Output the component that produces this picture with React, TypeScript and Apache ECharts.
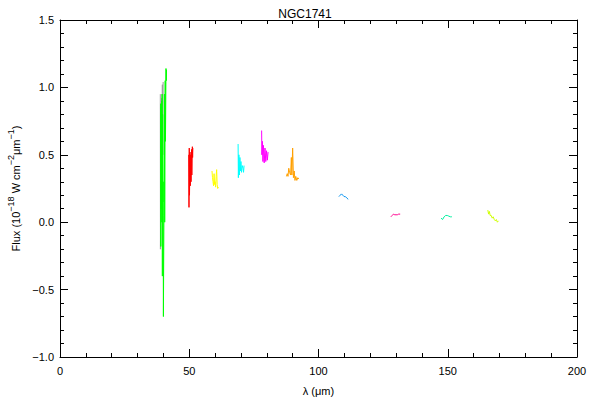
import React, { useEffect, useRef } from "react";
import * as echarts from "echarts";

const title = "NGC1741";
const xTicks = [0, 50, 100, 150, 200];
const yTicks = [-1.0, -0.5, 0.0, 0.5, 1.0, 1.5];

const greenSeg: [number, number][] = [
  [38.9, 0.88], [39.0, -0.18], [39.1, 0.85], [39.2, 0.1], [39.3, 0.9], [39.4, 0.0],
  [39.5, 0.95], [39.6, -0.4], [39.7, 0.8], [39.8, 0.15], [39.9, 0.3], [40.0, -0.7],
  [40.2, 0.05], [40.4, 0.95], [40.5, 0.0], [40.7, 1.05], [40.8, 0.6], [41.0, 1.14],
  [41.1, 1.05], [41.2, 1.13],
];
const graySeg: [number, number][] = [
  [38.8, 0.95], [38.85, -0.2], [39.3, 0.92], [39.45, 0.6], [39.6, 1.02], [39.75, 0.5], [39.9, 1.04],
];
const redSeg: [number, number][] = [
  [49.8, 0.5], [49.9, 0.11], [50.0, 0.55], [50.1, 0.2], [50.3, 0.52], [50.4, 0.27],
  [50.6, 0.5], [50.7, 0.3], [50.9, 0.54], [51.0, 0.35], [51.2, 0.56], [51.3, 0.48], [51.4, 0.55],
];
const yellowSeg: [number, number][] = [
  [58.8, 0.38], [59.0, 0.33], [59.2, 0.3], [59.4, 0.27], [59.6, 0.36], [59.8, 0.28],
  [60.0, 0.3], [60.2, 0.26], [60.4, 0.34], [60.6, 0.39], [60.8, 0.28], [61.0, 0.25], [61.3, 0.26],
];
const cyanSeg: [number, number][] = [
  [68.9, 0.58], [69.0, 0.33], [69.2, 0.5], [69.4, 0.35], [69.6, 0.48], [69.8, 0.38],
  [70.0, 0.45], [70.2, 0.37], [70.5, 0.42], [70.8, 0.4], [71.0, 0.37], [71.2, 0.42],
];
const magentaSeg: [number, number][] = [
  [78.0, 0.68], [78.1, 0.5], [78.3, 0.6], [78.5, 0.45], [78.7, 0.57], [79.0, 0.44],
  [79.3, 0.55], [79.6, 0.45], [79.9, 0.53], [80.2, 0.46], [80.5, 0.52],
];
const orangeSeg: [number, number][] = [
  [87.6, 0.34], [87.9, 0.36], [88.2, 0.34], [88.5, 0.4], [88.8, 0.37], [89.2, 0.35],
  [89.5, 0.48], [89.7, 0.35], [90.0, 0.55], [90.3, 0.33], [90.6, 0.38], [90.9, 0.31],
  [91.2, 0.34], [91.6, 0.31], [92.0, 0.33], [92.4, 0.32],
];
const blueSeg: [number, number][] = [
  [107.9, 0.19], [108.4, 0.2], [108.9, 0.21], [109.4, 0.2], [109.9, 0.19],
  [110.4, 0.19], [110.9, 0.18], [111.5, 0.17],
];
const pinkSeg: [number, number][] = [
  [128.0, 0.04], [128.5, 0.05], [129.0, 0.06], [129.5, 0.055], [130.0, 0.055],
  [130.5, 0.055], [131.0, 0.06], [131.6, 0.06],
];
const seaSeg: [number, number][] = [
  [147.4, 0.03], [148.0, 0.02], [148.6, 0.04], [149.2, 0.05], [149.8, 0.05],
  [150.4, 0.045], [151.0, 0.04], [151.6, 0.04],
];
const limeSeg: [number, number][] = [
  [165.5, 0.09], [165.8, 0.06], [166.1, 0.08], [166.4, 0.05], [166.8, 0.05], [167.2, 0.03],
  [167.6, 0.04], [168.0, 0.02], [168.4, 0.01], [168.8, 0.02], [169.2, 0.0], [169.6, 0.01],
];

const segments: { data: [number, number][]; color: string }[] = [
  { data: graySeg, color: "#a0a0a0" },
  { data: greenSeg, color: "#00ff00" },
  { data: redSeg, color: "#ff0000" },
  { data: yellowSeg, color: "#ffff00" },
  { data: cyanSeg, color: "#00ffff" },
  { data: magentaSeg, color: "#ff00ff" },
  { data: orangeSeg, color: "#ffa000" },
  { data: blueSeg, color: "#0090f0" },
  { data: pinkSeg, color: "#ff0090" },
  { data: seaSeg, color: "#00f0a0" },
  { data: limeSeg, color: "#d0ff00" },
];

const FONT = "Liberation Sans";

export default function App() {
  const ref = useRef<HTMLDivElement>(null);
  useEffect(() => {
    if (!ref.current) return;
    const chart = echarts.init(ref.current, null, { renderer: "svg" });
    const axisCommon = {
      axisLine: { show: true, onZero: false, lineStyle: { color: "#000", width: 1 } },
      axisTick: { show: true, inside: true, length: 8, lineStyle: { color: "#000" } },
      minorTick: { show: true, splitNumber: 5, length: 4, lineStyle: { color: "#000" } },
      splitLine: { show: false },
    };
    const fmtY = (v: number) => {
      const s = Math.abs(v).toFixed(1);
      return v < 0 ? "\u2212" + s : s;
    };
    chart.setOption({
      animation: false,
      backgroundColor: "#fff",
      title: {
        text: title,
        left: 300,
        textAlign: "center",
        top: 3,
        textStyle: { fontFamily: FONT, fontSize: 12, fontWeight: "normal", color: "#000" },
      },
      grid: { left: 60, right: 23, top: 20, bottom: 43, outerBoundsMode: "none", containLabel: false },
      xAxis: [
        {
          type: "value",
          min: xTicks[0],
          max: xTicks[xTicks.length - 1],
          interval: 50,
          position: "bottom",
          ...axisCommon,
          axisLabel: { show: true, margin: 8, fontFamily: FONT, fontSize: 11, color: "#000" },
          name: "\u03bb (\u03bcm)",
          nameLocation: "middle",
          nameGap: 28,
          nameTextStyle: { fontFamily: FONT, fontSize: 11, color: "#000" },
        },
        {
          type: "value",
          min: xTicks[0],
          max: xTicks[xTicks.length - 1],
          interval: 50,
          position: "top",
          ...axisCommon,
          axisLabel: { show: false },
        },
      ],
      yAxis: [
        {
          type: "value",
          min: yTicks[0],
          max: yTicks[yTicks.length - 1],
          interval: 0.5,
          position: "left",
          ...axisCommon,
          axisLabel: { show: true, margin: 6, formatter: fmtY, fontFamily: FONT, fontSize: 11, color: "#000" },
          name: "{n|Flux (10}{s|\u221218}{n| W cm}{s|\u22122}{n|\u03bcm}{s|\u22121}{n|)}",
          nameLocation: "middle",
          nameGap: 28,
          nameTextStyle: {
            fontFamily: FONT,
            fontSize: 11,
            color: "#000",
            rich: {
              n: { fontFamily: FONT, fontSize: 11, color: "#000", lineHeight: 15, verticalAlign: "bottom" },
              s: { fontFamily: FONT, fontSize: 9, color: "#000", lineHeight: 15, verticalAlign: "top" },
            },
          },
        },
        {
          type: "value",
          min: yTicks[0],
          max: yTicks[yTicks.length - 1],
          interval: 0.5,
          position: "right",
          ...axisCommon,
          axisLabel: { show: false },
        },
      ],
      series: segments.map((s) => ({
        type: "line",
        data: s.data,
        xAxisIndex: 0,
        yAxisIndex: 0,
        showSymbol: false,
        symbol: "none",
        lineStyle: { color: s.color, width: 1 },
        silent: true,
      })),
    });
    return () => chart.dispose();
  }, []);
  return <div ref={ref} style={{ width: 600, height: 400, position: "absolute", left: 0, top: 0 }} />;
}
